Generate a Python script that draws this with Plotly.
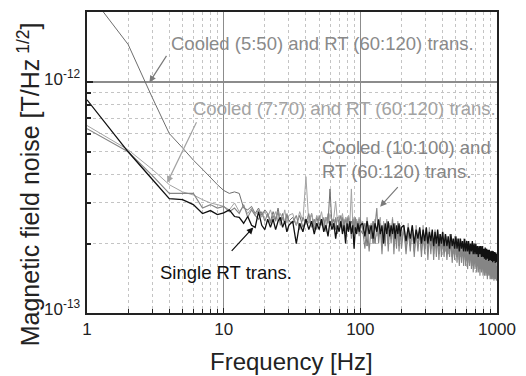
import plotly.graph_objects as go

# Frequency bins [Hz]
freq = (list(range(1, 31)) + list(range(32, 101, 2)) + list(range(104, 201, 4))
        + list(range(208, 401, 8)) + list(range(410, 1001, 10)))

# Noise values in units of 1e-13 T/Hz^1/2
cooled_5_50 = [
    25, 14.6, 8.6, 6.0, 5.2, 4.6, 4.2, 3.85, 3.6, 3.4, 3.3, 3.35, 3.3, 2.85, 2.8, 2.9, 2.7, 2.85, 2.65, 2.8,
    2.7, 2.5, 2.75, 2.55, 2.85, 2.5, 2.7, 2.45, 2.65, 2.5,
    2.6, 2.4, 2.65, 2.35, 2.55, 2.45, 2.7, 2.3, 2.6, 2.4, 2.55, 2.3, 2.6, 2.45, 3.45, 2.4, 2.55, 2.3, 2.6, 2.45,
    2.35, 2.6, 2.3, 2.55, 2.4, 2.6, 2.3, 2.5, 2.4, 2.55, 2.25, 2.5, 2.35, 2.55, 2.3,
    2.2, 2.45, 1.95, 2.4, 2.1, 2.5, 2.0, 2.35, 2.15, 2.45, 1.95, 2.4, 2.1, 2.45, 2.0, 2.35, 2.1, 2.4, 1.95, 2.35,
    2.05, 2.4, 1.95, 2.3, 2.05,
    2.3, 1.9, 2.25, 1.95, 2.3, 1.85, 2.2, 1.95, 2.25, 1.85, 2.2, 1.9, 2.25, 1.85, 2.15, 1.9, 2.2, 1.8, 2.15, 1.9,
    2.2, 1.8, 2.1, 1.85, 2.15,
    1.85, 2.1, 1.8, 2.05, 1.85, 2.0, 1.75, 2.05, 1.8, 2.0, 1.75, 2.0, 1.7, 1.95, 1.75, 1.95, 1.7, 1.95, 1.7, 1.9,
    1.65, 1.9, 1.7, 1.85, 1.65, 1.9, 1.6, 1.85, 1.65, 1.85, 1.6, 1.8, 1.6, 1.85, 1.55, 1.8, 1.6, 1.8, 1.55, 1.75,
    1.55, 1.8, 1.5, 1.75, 1.55, 1.75, 1.5, 1.7, 1.5, 1.75, 1.45, 1.7, 1.5, 1.7, 1.45, 1.65, 1.45, 1.7, 1.45, 1.65,
]

cooled_7_70 = [
    6.5, 5.1, 4.2, 3.6, 3.35, 3.25, 3.1, 3.0, 2.95, 2.9, 2.8, 3.0, 2.75, 2.9, 2.7, 2.85, 2.65, 2.8, 2.6, 2.75,
    2.6, 2.8, 2.55, 2.75, 2.5, 2.7, 2.55, 2.8, 2.45, 2.65,
    2.7, 2.4, 2.75, 2.5, 3.9, 2.45, 2.7, 2.4, 2.65, 2.5, 2.75, 2.4, 2.6, 2.45, 2.7, 2.5, 2.6, 3.05, 2.5, 2.65,
    2.4, 2.7, 2.45, 2.6, 2.4, 2.65, 2.5, 3.45, 2.45, 2.6, 2.35, 2.55, 2.4, 2.6, 2.3,
    2.5, 2.1, 2.6, 2.2, 2.45, 2.0, 2.55, 2.15, 2.4, 2.6, 2.05, 2.5, 2.2, 2.55, 2.0, 2.45, 2.2, 2.6, 2.1, 2.45,
    2.0, 2.5, 2.15, 2.4, 2.05,
    2.4, 1.95, 2.45, 2.05, 2.35, 1.9, 2.4, 2.1, 2.3, 1.9, 2.4, 2.0, 2.3, 1.95, 2.35, 2.0, 2.25, 1.9, 2.3, 1.95,
    2.25, 1.9, 2.2, 2.0, 2.25,
    2.2, 1.85, 2.15, 1.8, 2.2, 1.9, 2.1, 1.8, 2.15, 1.85, 2.1, 1.8, 2.1, 1.75, 2.05, 1.85, 2.1, 1.75, 2.0, 1.8,
    2.05, 1.7, 2.0, 1.75, 2.0, 1.7, 1.95, 1.75, 2.0, 1.65, 1.95, 1.7, 1.9, 1.65, 1.95, 1.7, 1.9, 1.6, 1.9, 1.65,
    1.85, 1.6, 1.9, 1.6, 1.85, 1.55, 1.85, 1.6, 1.8, 1.55, 1.85, 1.55, 1.8, 1.5, 1.8, 1.55, 1.75, 1.5, 1.75, 1.5,
]

cooled_10_100 = [
    6.3, 5.0, 3.95, 3.3, 3.3, 3.3, 2.85, 2.95, 2.85, 2.9, 2.75, 2.85, 2.7, 2.95, 2.6, 2.8, 2.65, 2.55, 2.75, 2.5,
    2.7, 2.45, 2.65, 2.5, 2.75, 2.4, 2.6, 2.45, 2.7, 2.5,
    2.45, 2.65, 2.3, 2.6, 2.45, 2.7, 2.35, 2.55, 2.3, 2.65, 2.4, 2.6, 2.25, 2.7, 2.4, 2.55, 2.3, 2.6, 2.2, 2.5,
    2.65, 2.3, 2.55, 2.2, 2.6, 2.35, 2.5, 2.1, 2.55, 2.3, 2.6, 2.25, 2.5, 2.15, 2.55,
    2.3, 1.9, 2.45, 1.85, 2.35, 2.0, 2.5, 2.85, 2.0, 2.4, 1.8, 2.35, 1.95, 2.5, 1.85, 2.4, 2.0, 2.55, 1.8, 2.3,
    1.9, 2.45, 1.85, 2.35, 1.9,
    2.35, 1.8, 2.3, 1.85, 2.4, 1.75, 2.25, 1.85, 2.3, 1.75, 2.25, 1.8, 2.3, 1.7, 2.2, 1.8, 2.25, 1.7, 2.2, 1.75,
    2.15, 1.7, 2.2, 1.75, 2.1,
    1.75, 2.1, 1.7, 2.05, 1.75, 2.1, 1.65, 2.0, 1.7, 2.05, 1.65, 2.0, 1.6, 2.0, 1.65, 1.95, 1.6, 2.0, 1.6, 1.9,
    1.55, 1.95, 1.6, 1.9, 1.55, 1.9, 1.5, 1.85, 1.55, 1.9, 1.5, 1.85, 1.5, 1.8, 1.45, 1.85, 1.5, 1.8, 1.45, 1.8,
    1.45, 1.75, 1.45, 1.8, 1.4, 1.75, 1.45, 1.7, 1.4, 1.75, 1.4, 1.7, 1.4, 1.7, 1.38, 1.65, 1.4, 1.65, 1.38, 1.6,
]

single_rt = [
    8.4, 5.0, 3.8, 3.13, 3.1, 2.95, 2.7, 2.78, 2.67, 2.72, 2.8, 2.62, 2.6, 2.45, 2.62, 2.4, 2.35, 2.75, 2.4, 2.3,
    2.55, 2.35, 2.55, 2.3, 2.5, 2.6, 2.35, 2.5, 2.25, 2.4,
    2.5, 2.0, 2.45, 2.25, 2.55, 2.3, 2.5, 2.2, 2.45, 2.3, 2.55, 2.25, 2.4, 2.15, 2.5, 2.3, 2.45, 2.1, 2.4, 2.25,
    2.5, 2.2, 2.4, 2.0, 2.45, 2.25, 2.5, 2.2, 2.4, 1.9, 2.35, 2.2, 2.45, 2.25, 2.4,
    2.45, 2.15, 2.5, 2.2, 2.4, 2.1, 2.45, 2.25, 2.55, 2.2, 2.4, 2.0, 2.45, 2.2, 2.5, 2.15, 2.4, 2.2, 2.45, 2.1,
    2.4, 2.2, 2.45, 2.15, 2.35,
    2.4, 2.05, 2.35, 2.1, 2.4, 2.0, 2.3, 2.1, 2.35, 2.0, 2.3, 2.05, 2.35, 2.0, 2.25, 2.05, 2.3, 1.95, 2.25, 2.0,
    2.3, 1.95, 2.2, 2.0, 2.25,
    1.95, 2.2, 1.95, 2.15, 1.9, 2.2, 1.95, 2.1, 1.9, 2.15, 1.9, 2.1, 1.85, 2.1, 1.9, 2.05, 1.85, 2.1, 1.85, 2.05,
    1.85, 2.05, 1.8, 2.0, 1.85, 2.05, 1.8, 2.0, 1.8, 2.0, 1.8, 1.95, 1.75, 1.95, 1.8, 1.95, 1.75, 1.95, 1.75, 1.9,
    1.72, 1.92, 1.7, 1.9, 1.72, 1.88, 1.68, 1.88, 1.7, 1.85, 1.68, 1.86, 1.66, 1.85, 1.68, 1.84, 1.65, 1.83, 1.66, 1.8,
]

x_tickvals = [1, 10, 100, 1000]
x_ticktext = ["1", "10", "100", "1000"]
y_tickvals = [1e-13, 1e-12]
y_tick_exp = ["-13", "-12"]

series = [
    ("Cooled (5:50) and RT (60:120) trans.", cooled_5_50, "#6e6e6e", 1.0),
    ("Cooled (7:70) and RT (60:120) trans.", cooled_7_70, "#a3a3a3", 1.0),
    ("Cooled (10:100) and RT (60:120) trans.", cooled_10_100, "#858585", 1.1),
    ("Single RT trans.", single_rt, "#111111", 1.3),
]

FONT = "Liberation Sans, Arial, Helvetica, sans-serif"

fig = go.Figure()
for name, vals, col, lw in series:
    fig.add_trace(go.Scatter(
        x=freq, y=[v * 1e-13 for v in vals], mode="lines", name=name,
        line=dict(color=col, width=lw), showlegend=False,
    ))

W, H = 526, 376
L, R, T, B = 87, 26, 10, 63

def px(xp):
    return (xp - L) / (W - L - R)

def py(yp):
    return (H - B - yp) / (H - T - B)

ann = []
ann.append(dict(text="Cooled (5:50) and RT (60:120) trans.", x=px(170), y=py(42),
                font=dict(size=18.5, color="#8a8a8a")))
ann.append(dict(text="Cooled (7:70) and RT (60:120) trans.", x=px(192), y=py(107),
                font=dict(size=18.5, color="#a3a3a3")))
ann.append(dict(text="Cooled (10:100) and<br>RT (60:120) trans.", x=px(322), y=py(158),
                font=dict(size=18.5, color="#858585"), align="left"))
ann.append(dict(text="Single RT trans.", x=px(159), y=py(272),
                font=dict(size=18.5, color="#111111")))
for a in ann:
    a.update(xref="paper", yref="paper", xanchor="left", yanchor="middle",
             showarrow=False, font_family=FONT)

# y tick labels (10^n) as text next to the axis
import math
for v, e in zip(y_tickvals, y_tick_exp):
    ann.append(dict(text="10<sup>" + e + "</sup>", x=px(82), y=math.log10(v) + 0.02,
                    xref="paper", yref="y", xanchor="right", yanchor="middle",
                    showarrow=False, font=dict(family=FONT, size=17, color="#222222")))

# arrows (head in data coords on log axes -> log10 values)
arrows = [
    (0.457, -12.0, 18, -28, "#7a7a7a"),
    (0.587, -12.435, 30, -62, "#a3a3a3"),
    (2.145, -12.539, 19, -21, "#7a7a7a"),
    (1.217, -12.629, -23, 25, "#111111"),
]
for xh, yh, axo, ayo, col in arrows:
    ann.append(dict(x=xh, y=yh, xref="x", yref="y", ax=axo, ay=ayo, text="",
                    showarrow=True, arrowhead=2, arrowsize=1.1, arrowwidth=1.2,
                    arrowcolor=col, standoff=0))

ann.append(dict(text="Frequency [Hz]", x=px(293), y=py(362), xref="paper", yref="paper",
                xanchor="center", yanchor="middle", showarrow=False,
                font=dict(family=FONT, size=24, color="#222222")))
ann.append(dict(text="Magnetic field noise [T/Hz<sup> 1/2</sup>]", x=px(28), y=py(183),
                xref="paper", yref="paper", xanchor="center", yanchor="middle",
                showarrow=False, textangle=-90,
                font=dict(family=FONT, size=25, color="#222222")))

fig.update_layout(
    width=W, height=H, margin=dict(l=L, r=R, t=T, b=B),
    paper_bgcolor="white", plot_bgcolor="white",
    font=dict(family=FONT, color="#222222"),
    annotations=ann,
)
fig.update_xaxes(
    type="log", range=[0, 3], tickvals=x_tickvals, ticktext=x_ticktext,
    tickfont=dict(size=17, color="#222222"),
    showgrid=True, gridcolor="#8c8c8c", gridwidth=1,
    ticks="inside", ticklen=5, tickcolor="#222222",
    showline=True, linecolor="#222222", linewidth=1.5, mirror=True, zeroline=False,
    minor=dict(dtick="D1", showgrid=True, gridcolor="#c4c4c4", griddash="dot", gridwidth=1,
               ticks="inside", ticklen=4, tickcolor="#222222"),
)
fig.update_yaxes(
    type="log", range=[-13, -11.695], tickvals=y_tickvals, showticklabels=False,
    showgrid=True, gridcolor="#8c8c8c", gridwidth=1.5,
    ticks="inside", ticklen=6, tickwidth=2, tickcolor="#222222",
    showline=True, linecolor="#222222", linewidth=1.5, mirror=True, zeroline=False,
    minor=dict(dtick="D1", showgrid=True, gridcolor="#c4c4c4", griddash="dot", gridwidth=1,
               ticks="inside", ticklen=4, tickcolor="#222222"),
)

fig.write_html("out.html")
